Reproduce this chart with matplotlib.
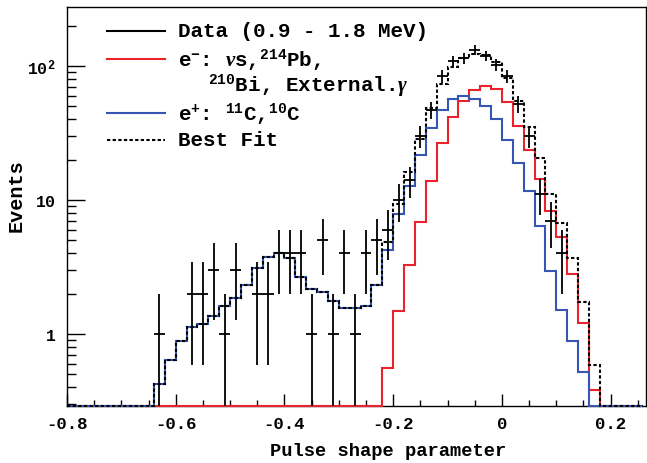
import numpy as np
import matplotlib
matplotlib.use("Agg")
import matplotlib.pyplot as plt
from matplotlib.ticker import FixedLocator, NullFormatter

# histogram binning: 0.02 wide bins from -0.80 to 0.26
bin_edges = np.round(np.arange(-0.80, 0.2601, 0.02), 2)

# e+ component (11C, 10C)
positron = [0, 0, 0, 0, 0, 0, 0, 0,
            0.42, 0.64, 0.88, 1.12, 1.18, 1.35, 1.63, 1.86, 2.33, 3.1,
            3.73, 4.0, 3.67, 2.65, 2.17, 2.05, 1.75, 1.56, 1.56, 1.63,
            2.33, 4.26, 7.87, 12.8, 21.6, 34.2, 46.8, 56.7, 59.3, 56.7,
            50.3, 40.3, 27.9, 19.0, 11.7, 6.42, 2.94, 1.52, 0.89, 0.52,
            0, 0, 0, 0, 0]

# e- component (nus, 214Pb, 210Bi, external gamma)
electron = [0] * 29 + [0.56, 1.49, 3.29, 6.81, 13.9, 26.7, 41.4, 55.0, 66.0,
                       71.0, 67.3, 54.0, 35.5, 23.4, 14.3, 8.2, 5.26, 2.8,
                       1.2, 0.38, 0, 0, 0, 0]

# best fit
best_fit = [0, 0, 0, 0, 0, 0, 0, 0,
            0.42, 0.64, 0.88, 1.12, 1.18, 1.35, 1.63, 1.86, 2.33, 3.1,
            3.73, 4.0, 3.67, 2.65, 2.17, 2.05, 1.75, 1.56, 1.56, 1.63,
            2.33, 4.82, 9.36, 16.1, 28.4, 48.1, 73.5, 98.1, 114.3, 122.7,
            121.3, 107.6, 81.9, 54.5, 35.1, 20.7, 11.1, 6.78, 3.69, 1.72,
            0.59, 0, 0, 0, 0]

# data counts (0.9 - 1.8 MeV)
counts = [0, 0, 0, 0, 0, 0, 0, 0,
          1, 0, 0, 2, 2, 3, 1, 3, 0, 2, 2, 4, 4, 4, 1, 5, 1, 4, 1, 4, 5,
          6, 10, 14, 30, 47, 84, 108, 114, 132, 119, 102, 84, 52, 30, 11,
          7, 4, 0, 0, 0, 0, 0, 0, 0]

YMIN, YMAX = 0.29, 275

plt.rcParams["mathtext.fontset"] = "custom"
plt.rcParams["mathtext.rm"] = "Liberation Mono:bold"
plt.rcParams["mathtext.bf"] = "Liberation Mono:bold"
plt.rcParams["mathtext.it"] = "Liberation Serif:italic"
plt.rcParams["font.family"] = ["Liberation Mono", "DejaVu Sans Mono"]
plt.rcParams["font.weight"] = "bold"

RED = "#e8232b"
BLUE = "#3756b3"

fig = plt.figure(figsize=(6.47, 4.64), dpi=100)
ax = fig.add_axes([67 / 647, 57 / 464, 579 / 647, 399 / 464])


def for_log(vals):
    # empty bins sit on the lower edge of the frame
    v = np.asarray(vals, dtype=float)
    return np.where(v > 0, v, YMIN)


ax.stairs(for_log(electron), bin_edges, baseline=None, color=RED, lw=1.5,
          zorder=3, clip_on=False)
ax.stairs(for_log(positron), bin_edges, baseline=None, color=BLUE, lw=1.5,
          zorder=3.1, clip_on=False)
ax.stairs(for_log(best_fit), bin_edges, baseline=None, color="black", lw=1.5,
          ls=(0, (1.6, 1.1)), zorder=3.2, clip_on=False)

# data points with sqrt(N) errors
n = np.asarray(counts, dtype=float)
centers = 0.5 * (bin_edges[:-1] + bin_edges[1:])
has = n > 0
err = np.sqrt(n[has])
lower = np.minimum(err, n[has] - 1e-3)
ax.errorbar(centers[has], n[has], yerr=[lower, err], xerr=0.01, fmt="none",
            ecolor="black", elinewidth=1.3, capsize=0, zorder=4)

ax.set_yscale("log")
ax.set_xlim(-0.8, 0.265)
ax.set_ylim(YMIN, YMAX)

ax.xaxis.set_major_locator(FixedLocator([-0.8, -0.6, -0.4, -0.2, 0, 0.2]))
ax.set_xticklabels(["-0.8", "-0.6", "-0.4", "-0.2", "0", "0.2"])
ax.xaxis.set_minor_locator(FixedLocator(np.arange(-0.8, 0.27, 0.05)))
ax.yaxis.set_major_locator(FixedLocator([1, 10, 100]))
ax.set_yticklabels(["1", "10", r"10$^{2}$"])
minor_y = [m * d for d in (0.1, 1, 10, 100) for m in range(2, 10)]
ax.yaxis.set_minor_locator(FixedLocator(minor_y))
ax.yaxis.set_minor_formatter(NullFormatter())

ax.tick_params(axis="x", which="major", direction="in", length=9, width=1,
               pad=7, labelsize=12.5)
ax.tick_params(axis="x", which="minor", direction="in", length=4, width=1)
ax.tick_params(axis="y", which="major", direction="in", length=13, width=1,
               pad=8, labelsize=12)
ax.tick_params(axis="y", which="minor", direction="in", length=6.5, width=1)
for sp in ax.spines.values():
    sp.set_linewidth(1.0)

ax.set_xlabel("Pulse shape parameter", fontsize=13.5, fontweight="bold")
ax.xaxis.set_label_coords(0.554, -0.09)
ax.set_ylabel("Events", fontsize=14.5, fontweight="bold")
ax.yaxis.set_label_coords(-0.072, 0.53)

# legend drawn by hand so the two-line entry keeps its marker on the first line
tr = ax.transAxes
legend_rows = [
    (0.940, "black", "-", "Data (0.9 - 1.8 MeV)"),
    (0.870, RED, "-", r"e$^{-}$: $\nu$s,$^{214}$Pb,"),
    (0.734, BLUE, "-", r"e$^{+}$: $^{11}$C,$^{10}$C"),
    (0.667, "black", (0, (1.6, 1.1)), "Best Fit"),
]
for yy, col, ls, label in legend_rows:
    ax.plot([0.069, 0.169], [yy, yy], color=col, ls=ls, lw=1.5, transform=tr,
            zorder=5)
    ax.text(0.192, yy, label, transform=tr, va="center", ha="left",
            fontsize=15, fontweight="bold")
ax.text(0.2435, 0.805, r"$^{210}$Bi, External.$\gamma$", transform=tr,
        va="center", ha="left", fontsize=15, fontweight="bold")

fig.savefig("out.png", dpi=100)
